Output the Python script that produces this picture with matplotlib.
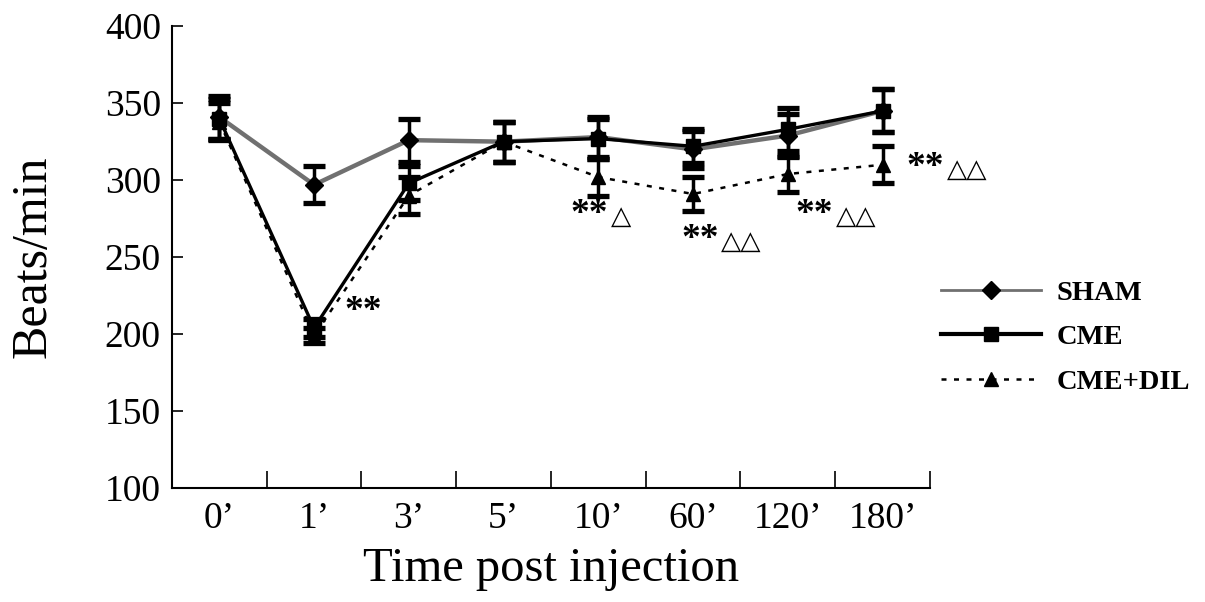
import matplotlib.pyplot as plt
from matplotlib.lines import Line2D

plt.rcParams["font.family"] = ["Liberation Serif", "DejaVu Sans"]

times = ["0\u2019", "1\u2019", "3\u2019", "5\u2019", "10\u2019", "60\u2019", "120\u2019", "180\u2019"]

sham = [341, 297, 326, 325, 328, 320, 329, 345]
sham_err = [14, 12, 14, 13, 13, 12, 14, 14]

cme = [340, 204, 298, 325, 327, 322, 333, 345]
cme_err = [13, 6, 11, 13, 13, 11, 14, 14]

dil = [338, 199, 290, 325, 302, 291, 304, 310]
dil_err = [12, 5, 12, 13, 12, 11, 12, 12]

# significance marks: x where "**" meets the triangles, y value, triangle count
marks_x = [1.52, 4.10, 5.27, 6.48, 7.65]
marks_y = [219, 282, 266, 282, 313]
marks_tri = [0, 1, 2, 2, 2]

fig = plt.figure(figsize=(12.05, 6.02), dpi=100)
ax = fig.add_axes([0.1427, 0.1894, 0.629, 0.767])

x = list(range(len(times)))
eb = dict(elinewidth=2.5, capsize=8, capthick=3.8, ecolor="black")

ax.errorbar(x, dil, yerr=dil_err, color="black", linestyle=(0, (2, 3)), linewidth=1.8,
            marker="^", markersize=10, markerfacecolor="black", markeredgecolor="black", **eb)
ax.errorbar(x, sham, yerr=sham_err, color="#707070", linewidth=3.2,
            marker="D", markersize=9, markerfacecolor="black", markeredgecolor="black", **eb)
ax.errorbar(x, cme, yerr=cme_err, color="black", linewidth=2.4,
            marker="s", markersize=10, markerfacecolor="black", markeredgecolor="black", **eb)

for mx, my, nt in zip(marks_x, marks_y, marks_tri):
    ha = "center" if nt == 0 else "right"
    ax.annotate("**", (mx, my), xytext=(0, -5), textcoords="offset points",
                ha=ha, va="center", fontsize=27, fontweight="bold", annotation_clip=False)
    if nt:
        ax.annotate("\u25b3" * nt, (mx, my), xytext=(2, -7.5), textcoords="offset points",
                    ha="left", va="center", fontsize=19, annotation_clip=False)

ax.set_xlim(-0.5, len(times) - 0.5)
ax.set_ylim(100, 400)
ax.set_yticks(range(100, 401, 50))
ax.set_xticks(x)
ax.set_xticklabels(times)
ax.set_xticks([i + 0.5 for i in x], minor=True)
ax.tick_params(axis="x", which="major", length=0, labelsize=27, pad=10)
ax.tick_params(axis="x", which="minor", direction="in", length=12, width=1.2)
ax.tick_params(axis="y", direction="in", length=8, width=1.2, labelsize=27, pad=8)

for side in ["top", "right"]:
    ax.spines[side].set_visible(False)
for side in ["left", "bottom"]:
    ax.spines[side].set_linewidth(1.5)

ax.set_xlabel("Time post injection", fontsize=35, labelpad=8)
ax.set_ylabel("Beats/min", fontsize=36, labelpad=35)

handles = [
    Line2D([], [], color="#707070", linewidth=2, marker="D", markersize=9,
           markerfacecolor="black", markeredgecolor="black"),
    Line2D([], [], color="black", linewidth=3, marker="s", markersize=10,
           markerfacecolor="black", markeredgecolor="black"),
    Line2D([], [], color="black", linewidth=1.8, linestyle=(0, (2, 3)), marker="^",
           markersize=10, markerfacecolor="black", markeredgecolor="black"),
]
fig.legend(handles, ["SHAM", "CME", "CME+DIL"], loc="center left",
           bbox_to_anchor=(0.760, 0.44), frameon=False, handlelength=3.5,
           handletextpad=0.53, labelspacing=0.65, prop={"size": 20.5, "weight": "bold"})

fig.savefig("out.png", dpi=100)
